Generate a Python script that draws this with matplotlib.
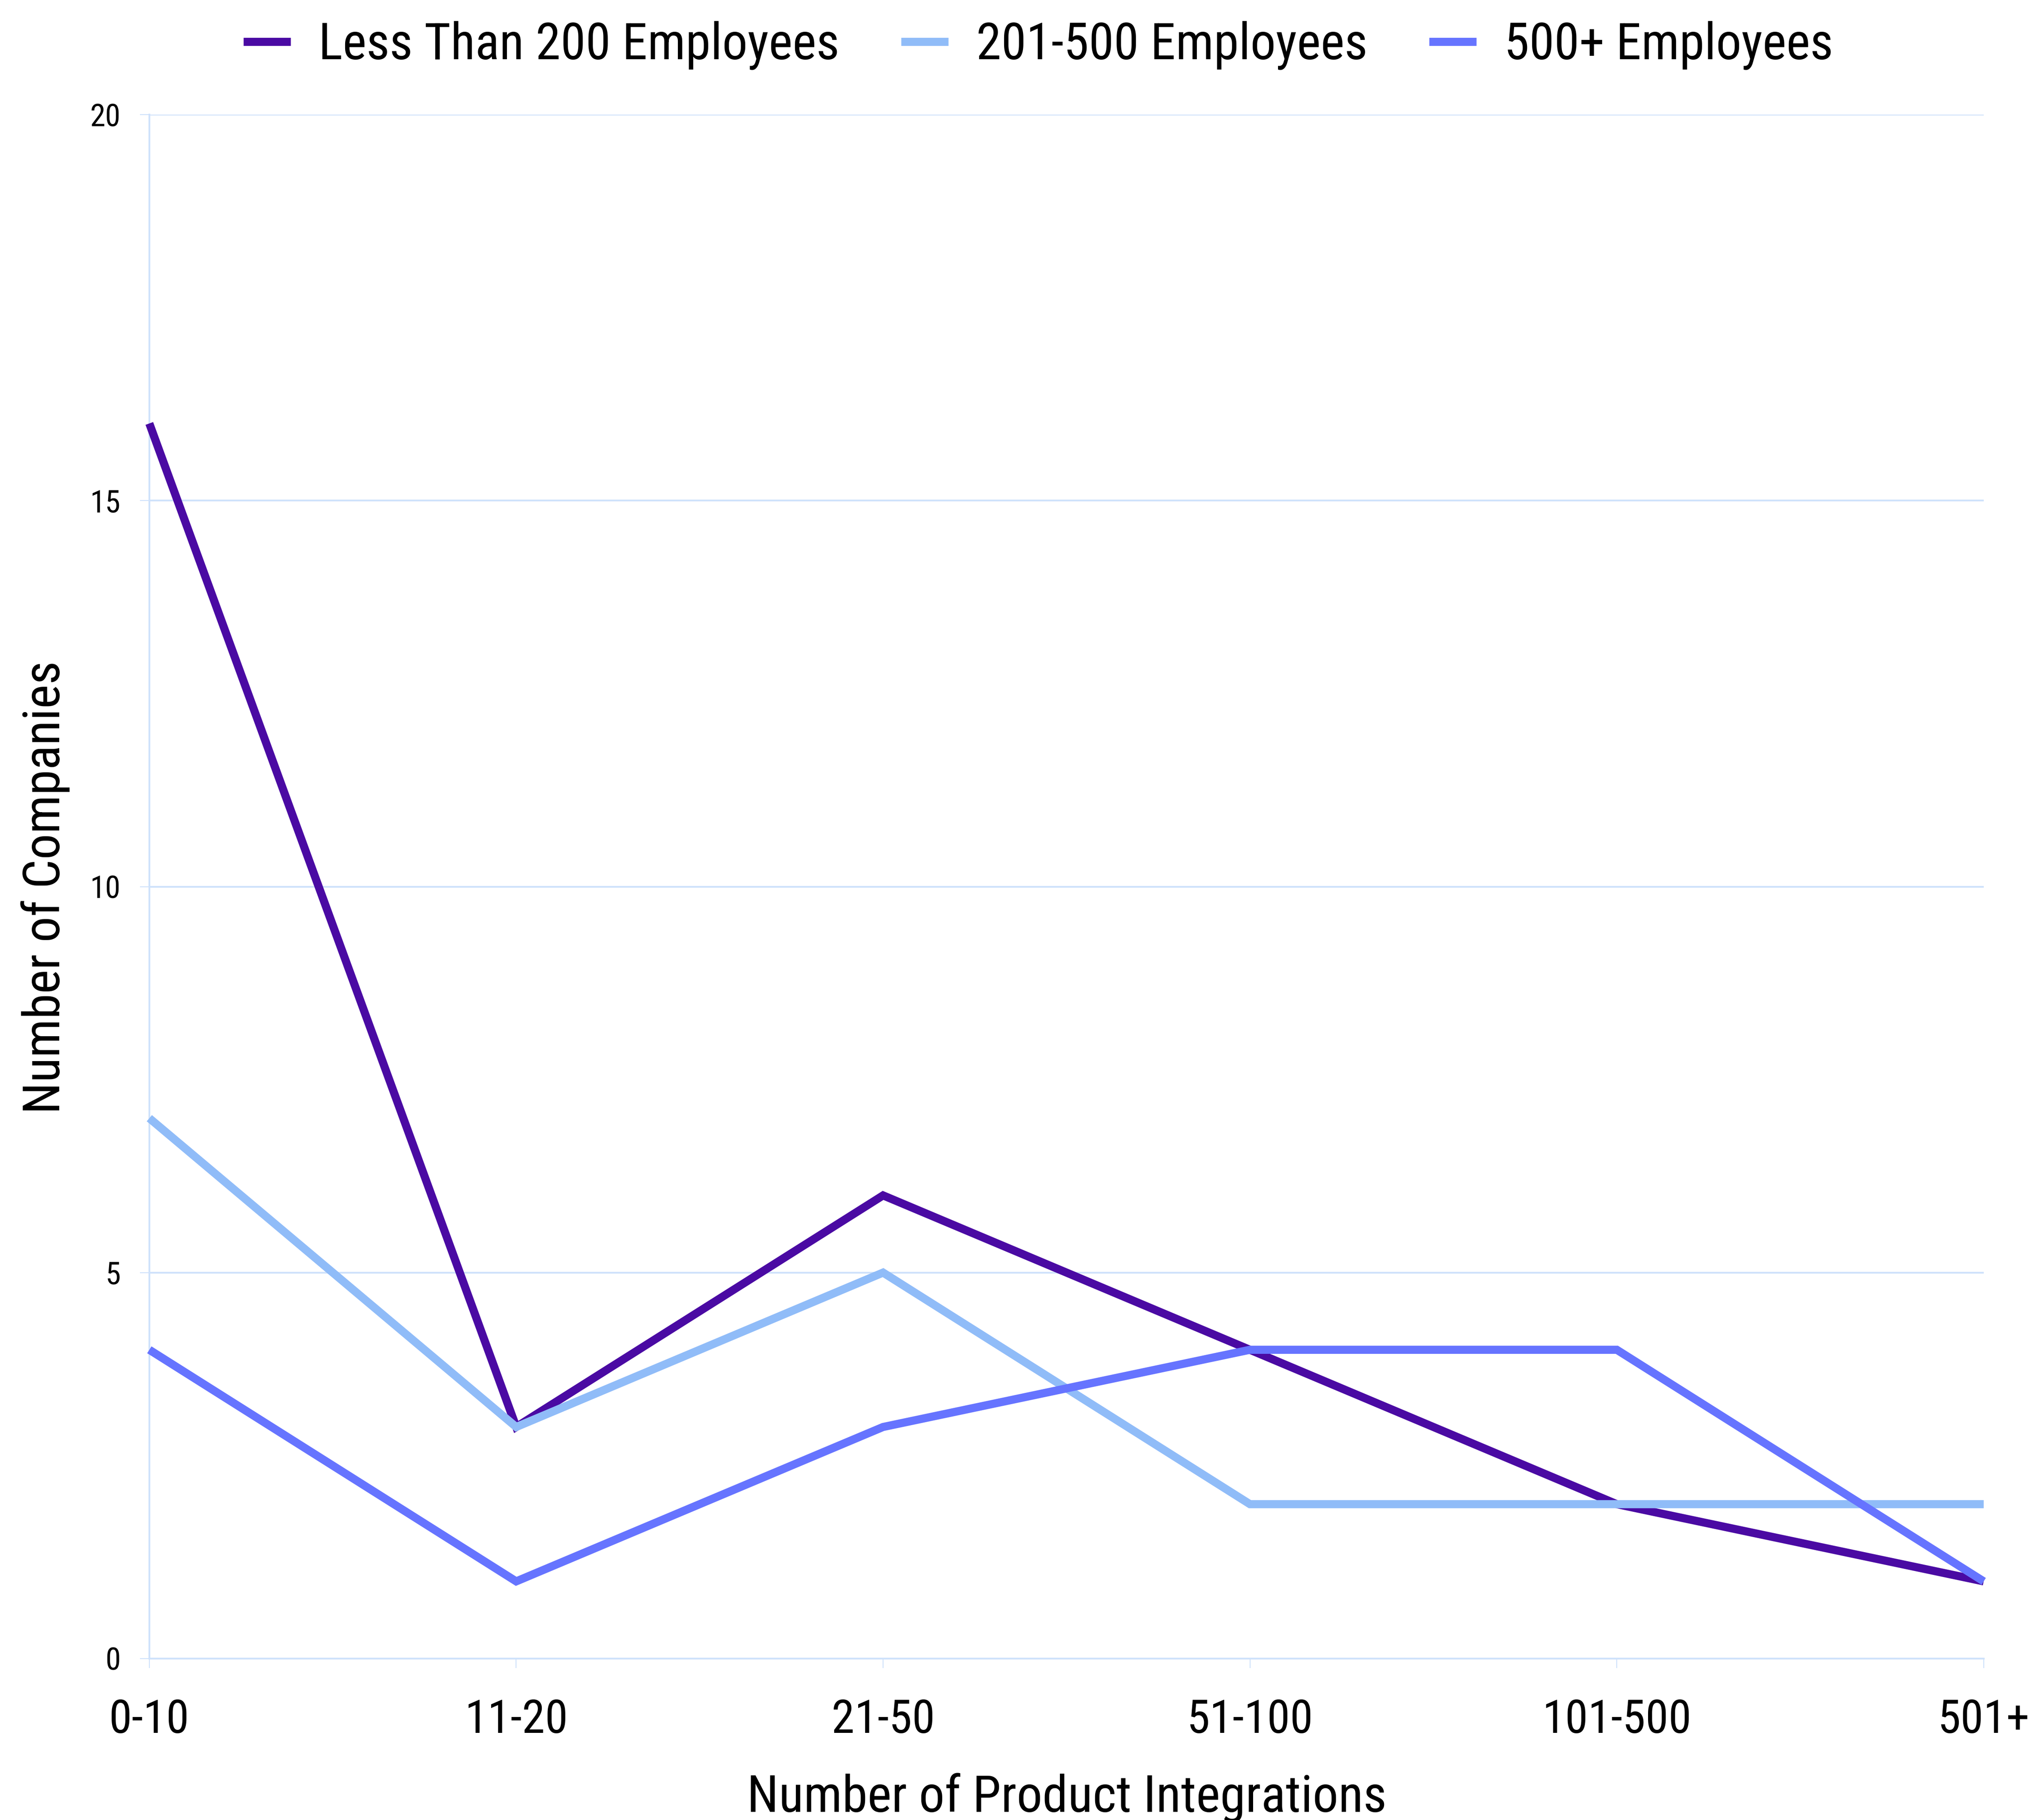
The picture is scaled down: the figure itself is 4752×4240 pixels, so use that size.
import matplotlib
matplotlib.use("Agg")
import matplotlib.pyplot as plt
from matplotlib import font_manager

available = {f.name for f in font_manager.fontManager.ttflist}
family = "Roboto Condensed" if "Roboto Condensed" in available else "Roboto"
plt.rcParams["font.family"] = [family, "DejaVu Sans"]

categories = ["0-10", "11-20", "21-50", "51-100", "101-500", "501+"]
series_names = ["Less Than 200 Employees", "201-500 Employees", "500+ Employees"]
small_cos = [16, 3, 6, 4, 2, 1]
mid_cos = [7, 3, 5, 2, 2, 2]
large_cos = [4, 1, 3, 4, 4, 1]
y_ticks = [0, 5, 10, 15, 20]

colors = ["#4a0aa3", "#90bcf8", "#6674ff"]
grid_color = "#cfe2fb"

fig = plt.figure(figsize=(23.76, 21.2), dpi=200)
ax = fig.add_axes([0.0732, 0.0887, 0.8992, 0.8483])

x = list(range(len(categories)))
for vals, name, c in zip([small_cos, mid_cos, large_cos], series_names, colors):
    ax.plot(x, vals, color=c, lw=6.8, label=name, solid_joinstyle="miter",
            solid_capstyle="butt", zorder=3, clip_on=False)

ax.set_xlim(0, len(categories) - 1)
ax.set_ylim(0, 20)
ax.set_yticks(y_ticks)
ax.set_xticks(x)
ax.set_xticklabels(categories, fontsize=39)
ax.tick_params(axis="y", labelsize=26, length=8, color=grid_color, pad=16)
ax.tick_params(axis="x", length=8, color=grid_color, pad=25)
ax.grid(axis="y", color=grid_color, lw=1.5, zorder=0)
for s in ["top", "right"]:
    ax.spines[s].set_visible(False)
for s in ["left", "bottom"]:
    ax.spines[s].set_color(grid_color)
    ax.spines[s].set_linewidth(1.5)

fig.text(820 / 1568, 1 - 1382 / 1399, "Number of Product Integrations",
         fontsize=43, ha="center", va="center")
fig.text(35 / 1568, 1 - 682 / 1399, "Number of Companies",
         fontsize=43, ha="center", va="center", rotation=90)

fig.legend(loc="center", bbox_to_anchor=(0.509, 1 - 35 / 1399), ncol=3, frameon=False,
           fontsize=42.5, handlelength=0.93, handletextpad=0.55, columnspacing=1.22)

fig.savefig("out.png", dpi=200, facecolor="white")
